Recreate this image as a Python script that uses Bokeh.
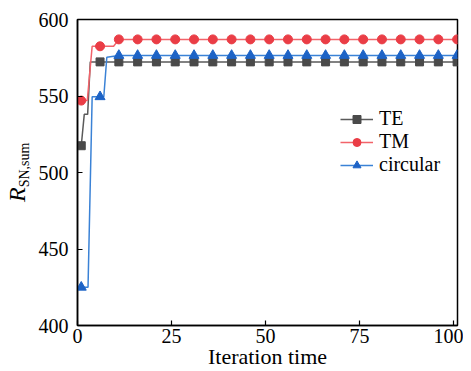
from bokeh.plotting import figure
from bokeh.layouts import row
from bokeh.models import Range1d, FixedTicker, Legend, LegendItem, Div
from bokeh.embed import file_html
from bokeh.resources import INLINE

# ---- data ----
te_x = [1, 1.8, 2.7, 3.4, 101]
te_y = [517.5, 538, 538, 572.3, 572.3]
tm_x = [1, 2.6, 3.9, 9.6, 11, 101]
tm_y = [547, 547, 582.5, 582.5, 587, 587]
cir_x = [1, 2.8, 3.9, 7.0, 7.8, 11, 101]
cir_y = [425, 425, 549.5, 549.5, 575.3, 576.5, 576.5]

marker_x = [1, 6, 11, 16, 21, 26, 31, 36, 41, 46, 51, 56, 61, 66, 71, 76, 81, 86, 91, 96, 101]
te_marker_y = [517.5] + [572.3] * 20
tm_marker_y = [547, 582.5] + [587] * 19
cir_marker_y = [425, 549.5] + [576.5] * 19

x_ticks = [0, 25, 50, 75, 100]
y_ticks = [400, 450, 500, 550, 600]

FONT = "Liberation Serif"
HQ = 369
LW = 30

p = figure(frame_width=380, frame_height=306, output_backend="svg", toolbar_location=None,
           x_range=Range1d(0, 101.1), y_range=Range1d(400, 600),
           min_border_left=47, min_border_top=19, min_border_right=6, min_border_bottom=30)
p.background_fill_color = "white"
p.border_fill_color = "white"
p.grid.visible = False
p.outline_line_color = "black"
p.outline_line_width = 1.5

for ax in (p.xaxis[0], p.yaxis[0]):
    ax.axis_line_width = 1.5
    ax.axis_line_color = "black"
    ax.major_tick_in = 5
    ax.major_tick_out = 0
    ax.major_tick_line_width = 1.2
    ax.minor_tick_in = 0
    ax.minor_tick_out = 0
    ax.major_label_text_font = FONT
    ax.major_label_text_font_size = "20px"
    ax.major_label_text_color = "black"

p.xaxis.ticker = FixedTicker(ticks=x_ticks)
p.yaxis.ticker = FixedTicker(ticks=y_ticks)
p.xaxis.major_label_standoff = 3
p.yaxis.major_label_standoff = 9
p.xaxis.axis_label = "Iteration time"
p.xaxis.axis_label_text_font = FONT
p.xaxis.axis_label_text_font_style = "normal"
p.xaxis.axis_label_text_font_size = "22px"
p.xaxis.axis_label_standoff = -2
p.xaxis.axis_label_text_color = "black"

te_line = p.line(te_x, te_y, line_color="#5a5a5a", line_width=1.5)
te_sc = p.scatter(marker_x, te_marker_y, marker="square", size=8, fill_color="#4a4a4a", line_color="#4a4a4a")
tm_line = p.line(tm_x, tm_y, line_color="#f2636a", line_width=1.5)
tm_sc = p.scatter(marker_x, tm_marker_y, marker="circle", size=9, fill_color="#ea3d46", line_color="#ea3d46")
cir_line = p.line(cir_x, cir_y, line_color="#3a82d6", line_width=1.5)
cir_sc = p.scatter(marker_x, cir_marker_y, marker="triangle", size=10, fill_color="#1d63c6", line_color="#1d63c6")

legend = Legend(items=[
    LegendItem(label="TE", renderers=[te_line, te_sc]),
    LegendItem(label="TM", renderers=[tm_line, tm_sc]),
    LegendItem(label="circular", renderers=[cir_line, cir_sc]),
], location=(263, 149))
legend.background_fill_alpha = 0
legend.border_line_alpha = 0
legend.padding = 0
legend.margin = 0
legend.spacing = -1
legend.glyph_width = 33
legend.glyph_height = 20
legend.label_height = 20
legend.label_standoff = 6
legend.label_text_font = FONT
legend.label_text_font_size = "20px"
legend.label_text_color = "black"
p.add_layout(legend, "center")

# y-axis title: italic R with subscript, rotated with CSS (reads bottom to top)
ylabel_html = (
    '<div style="width:120px; white-space:nowrap; transform-origin:0 0; '
    'transform:translate(5px, 202px) rotate(-90deg); '
    "font-family:'Liberation Serif', serif; font-size:24px; line-height:1; color:black;\">"
    '<i>R</i><span style="font-size:14px; position:relative; top:4px;">SN,sum</span></div>'
)
ylab = Div(text=ylabel_html, width=LW, height=HQ, margin=0)

layout = row(ylab, p, spacing=0)
open("out.html", "w").write(file_html(layout, INLINE))
